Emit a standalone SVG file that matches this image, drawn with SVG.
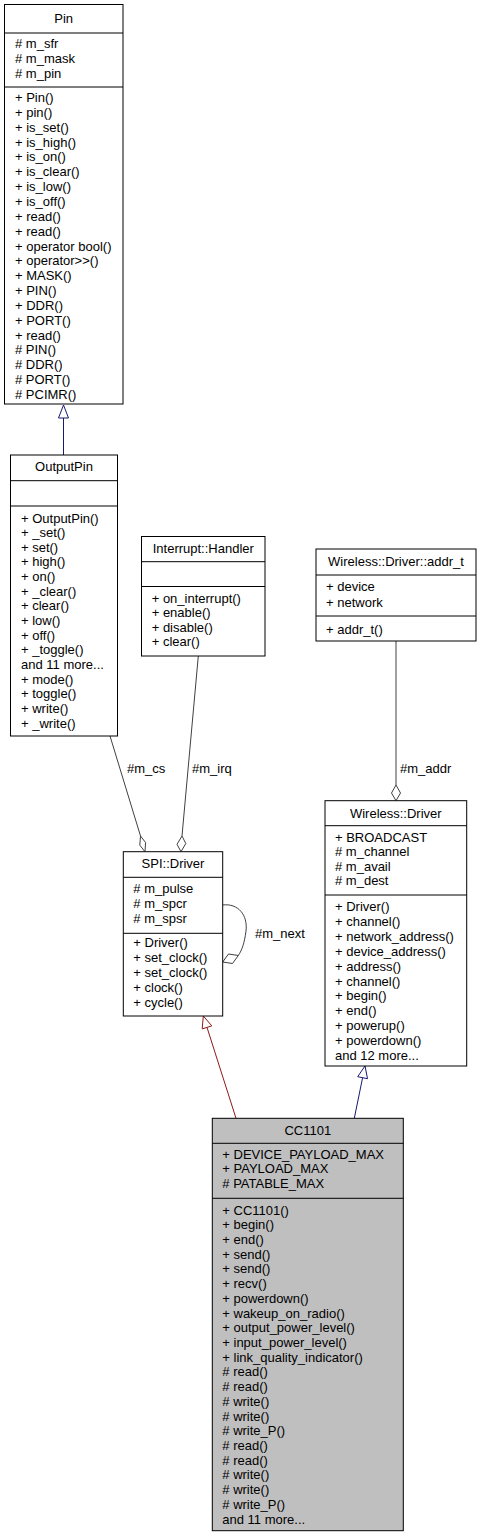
<svg xmlns="http://www.w3.org/2000/svg" width="481" height="1537" viewBox="0 0 481 1537">
<style>
text{font-family:"Liberation Sans",Arial,Helvetica,sans-serif;font-size:13px;fill:#000}
.c{text-anchor:middle}
.box{fill:#fff;stroke:#000;stroke-width:1}
.focus{fill:#bfbfbf;stroke:#000;stroke-width:1}
.sep{stroke:#000;stroke-width:1;fill:none}
.agg{stroke:#404040;stroke-width:1;fill:none}
.dia{fill:#fff;stroke:#404040;stroke-width:1}
.pub{stroke:#191970;stroke-width:1;fill:none}
.pubh{fill:#fff;stroke:#191970;stroke-width:1}
.prv{stroke:#8b1a1a;stroke-width:1;fill:none}
.prvh{fill:#fff;stroke:#8b1a1a;stroke-width:1}
</style>
<g id="connectors">
<line class="pub" x1="63.5" y1="455" x2="63.5" y2="418"/>
<polygon class="pubh" points="63.5,405 58.5,418 68.5,418"/>
<line class="agg" x1="110" y1="736" x2="140.5" y2="836"/>
<polygon class="dia" points="140.5,836 145.6,842.6 145,851.7 139.8,845.2"/>
<text x="127" y="773">#m_cs</text>
<line class="agg" x1="198.3" y1="656" x2="182" y2="836"/>
<polygon class="dia" points="182,836 185.8,843.5 181,851.7 177,844.3"/>
<text x="192" y="773">#m_irq</text>
<line class="agg" x1="396" y1="641" x2="396" y2="785"/>
<polygon class="dia" points="396,785 400.5,793 396,800.7 391.5,793"/>
<text x="400" y="773">#m_addr</text>
<path class="agg" d="M222.7,905 C238,903 248,915 246,931 C244.5,943 242,950 238.3,955.5"/>
<polygon class="dia" points="238.3,955.5 232.5,963.5 222.7,962 228.5,954"/>
<text x="255" y="937.5">#m_next</text>
<line class="prv" x1="236" y1="1118.3" x2="207" y2="1027.4"/>
<polygon class="prvh" points="203.3,1016 211.8,1025.9 202.2,1028.9"/>
<line class="pub" x1="354.3" y1="1118.3" x2="362.6" y2="1077.7"/>
<polygon class="pubh" points="365,1066 367.5,1078.7 357.7,1076.7"/>
</g>
<g id="Pin">
<rect class="box" x="4.5" y="4.5" width="118.5" height="399.5"/>
<line class="sep" x1="4.5" y1="33" x2="123" y2="33"/>
<line class="sep" x1="4.5" y1="87" x2="123" y2="87"/>
<text class="c" x="63.7" y="23">Pin</text>
<text x="15" y="47.5"># m_sfr</text>
<text x="15" y="62.5"># m_mask</text>
<text x="15" y="77.5"># m_pin</text>
<text x="15" y="102">+ Pin()</text>
<text x="15" y="116.85">+ pin()</text>
<text x="15" y="131.7">+ is_set()</text>
<text x="15" y="146.55">+ is_high()</text>
<text x="15" y="161.4">+ is_on()</text>
<text x="15" y="176.25">+ is_clear()</text>
<text x="15" y="191.1">+ is_low()</text>
<text x="15" y="205.95">+ is_off()</text>
<text x="15" y="220.8">+ read()</text>
<text x="15" y="235.65">+ read()</text>
<text x="15" y="250.5">+ operator bool()</text>
<text x="15" y="265.35">+ operator&gt;&gt;()</text>
<text x="15" y="280.2">+ MASK()</text>
<text x="15" y="295.05">+ PIN()</text>
<text x="15" y="309.9">+ DDR()</text>
<text x="15" y="324.75">+ PORT()</text>
<text x="15" y="339.6">+ read()</text>
<text x="15" y="354.45"># PIN()</text>
<text x="15" y="369.3"># DDR()</text>
<text x="15" y="384.15"># PORT()</text>
<text x="15" y="399"># PCIMR()</text>
</g>
<g id="OutputPin">
<rect class="box" x="10.5" y="455" width="107" height="281"/>
<line class="sep" x1="10.5" y1="480.7" x2="117.5" y2="480.7"/>
<line class="sep" x1="10.5" y1="506" x2="117.5" y2="506"/>
<text class="c" x="64" y="471.3">OutputPin</text>
<text x="21" y="522.5">+ OutputPin()</text>
<text x="21" y="537.15">+ _set()</text>
<text x="21" y="551.8">+ set()</text>
<text x="21" y="566.45">+ high()</text>
<text x="21" y="581.1">+ on()</text>
<text x="21" y="595.75">+ _clear()</text>
<text x="21" y="610.4">+ clear()</text>
<text x="21" y="625.05">+ low()</text>
<text x="21" y="639.7">+ off()</text>
<text x="21" y="654.35">+ _toggle()</text>
<text x="21" y="669">and 11 more...</text>
<text x="21" y="683.65">+ mode()</text>
<text x="21" y="698.3">+ toggle()</text>
<text x="21" y="712.95">+ write()</text>
<text x="21" y="727.6">+ _write()</text>
</g>
<g id="Interrupt_Handler">
<rect class="box" x="141.5" y="536.5" width="123.5" height="119.5"/>
<line class="sep" x1="141.5" y1="561.7" x2="265" y2="561.7"/>
<line class="sep" x1="141.5" y1="586.5" x2="265" y2="586.5"/>
<text class="c" x="203.3" y="553">Interrupt::Handler</text>
<text x="151.7" y="602.9">+ on_interrupt()</text>
<text x="151.7" y="617.4">+ enable()</text>
<text x="151.7" y="631.9">+ disable()</text>
<text x="151.7" y="646.4">+ clear()</text>
</g>
<g id="Wireless_Driver_addr_t">
<rect class="box" x="316" y="549" width="160" height="92"/>
<line class="sep" x1="316" y1="575" x2="476" y2="575"/>
<line class="sep" x1="316" y1="616" x2="476" y2="616"/>
<text class="c" x="396" y="566.3">Wireless::Driver::addr_t</text>
<text x="326" y="591.3">+ device</text>
<text x="326" y="606.9">+ network</text>
<text x="326" y="633.9">+ addr_t()</text>
</g>
<g id="Wireless_Driver">
<rect class="box" x="325" y="800.7" width="141.7" height="265.3"/>
<line class="sep" x1="325" y1="825.7" x2="466.7" y2="825.7"/>
<line class="sep" x1="325" y1="895" x2="466.7" y2="895"/>
<text class="c" x="395.8" y="817.9">Wireless::Driver</text>
<text x="335" y="841.9">+ BROADCAST</text>
<text x="335" y="856.4"># m_channel</text>
<text x="335" y="870.9"># m_avail</text>
<text x="335" y="885.4"># m_dest</text>
<text x="335" y="911.3">+ Driver()</text>
<text x="335" y="926.1">+ channel()</text>
<text x="335" y="941">+ network_address()</text>
<text x="335" y="955.8">+ device_address()</text>
<text x="335" y="970.6">+ address()</text>
<text x="335" y="985.5">+ channel()</text>
<text x="335" y="1000.3">+ begin()</text>
<text x="335" y="1015.1">+ end()</text>
<text x="335" y="1029.9">+ powerup()</text>
<text x="335" y="1044.8">+ powerdown()</text>
<text x="335" y="1059.6">and 12 more...</text>
</g>
<g id="SPI_Driver">
<rect class="box" x="123.3" y="851.7" width="99.4" height="164.3"/>
<line class="sep" x1="123.3" y1="877.3" x2="222.7" y2="877.3"/>
<line class="sep" x1="123.3" y1="933.3" x2="222.7" y2="933.3"/>
<text class="c" x="173" y="867.9">SPI::Driver</text>
<text x="133.3" y="893"># m_pulse</text>
<text x="133.3" y="908"># m_spcr</text>
<text x="133.3" y="923"># m_spsr</text>
<text x="133.3" y="947.3">+ Driver()</text>
<text x="133.3" y="962.3">+ set_clock()</text>
<text x="133.3" y="977.3">+ set_clock()</text>
<text x="133.3" y="992.3">+ clock()</text>
<text x="133.3" y="1007.3">+ cycle()</text>
</g>
<g id="CC1101">
<rect class="focus" x="212.3" y="1118.3" width="191" height="412.4"/>
<line class="sep" x1="212.3" y1="1143.3" x2="403.3" y2="1143.3"/>
<line class="sep" x1="212.3" y1="1198.3" x2="403.3" y2="1198.3"/>
<text class="c" x="307.8" y="1134.6">CC1101</text>
<text x="222.3" y="1158.6">+ DEVICE_PAYLOAD_MAX</text>
<text x="222.3" y="1173.3">+ PAYLOAD_MAX</text>
<text x="222.3" y="1188"># PATABLE_MAX</text>
<text x="222.3" y="1214.6">+ CC1101()</text>
<text x="222.3" y="1229.3">+ begin()</text>
<text x="222.3" y="1244">+ end()</text>
<text x="222.3" y="1258.7">+ send()</text>
<text x="222.3" y="1273.4">+ send()</text>
<text x="222.3" y="1288.2">+ recv()</text>
<text x="222.3" y="1302.9">+ powerdown()</text>
<text x="222.3" y="1317.6">+ wakeup_on_radio()</text>
<text x="222.3" y="1332.3">+ output_power_level()</text>
<text x="222.3" y="1347">+ input_power_level()</text>
<text x="222.3" y="1361.7">+ link_quality_indicator()</text>
<text x="222.3" y="1376.4"># read()</text>
<text x="222.3" y="1391.1"># read()</text>
<text x="222.3" y="1405.8"># write()</text>
<text x="222.3" y="1420.5"># write()</text>
<text x="222.3" y="1435.3"># write_P()</text>
<text x="222.3" y="1450"># read()</text>
<text x="222.3" y="1464.7"># read()</text>
<text x="222.3" y="1479.4"># write()</text>
<text x="222.3" y="1494.1"># write()</text>
<text x="222.3" y="1508.8"># write_P()</text>
<text x="222.3" y="1523.5">and 11 more...</text>
</g>
</svg>
